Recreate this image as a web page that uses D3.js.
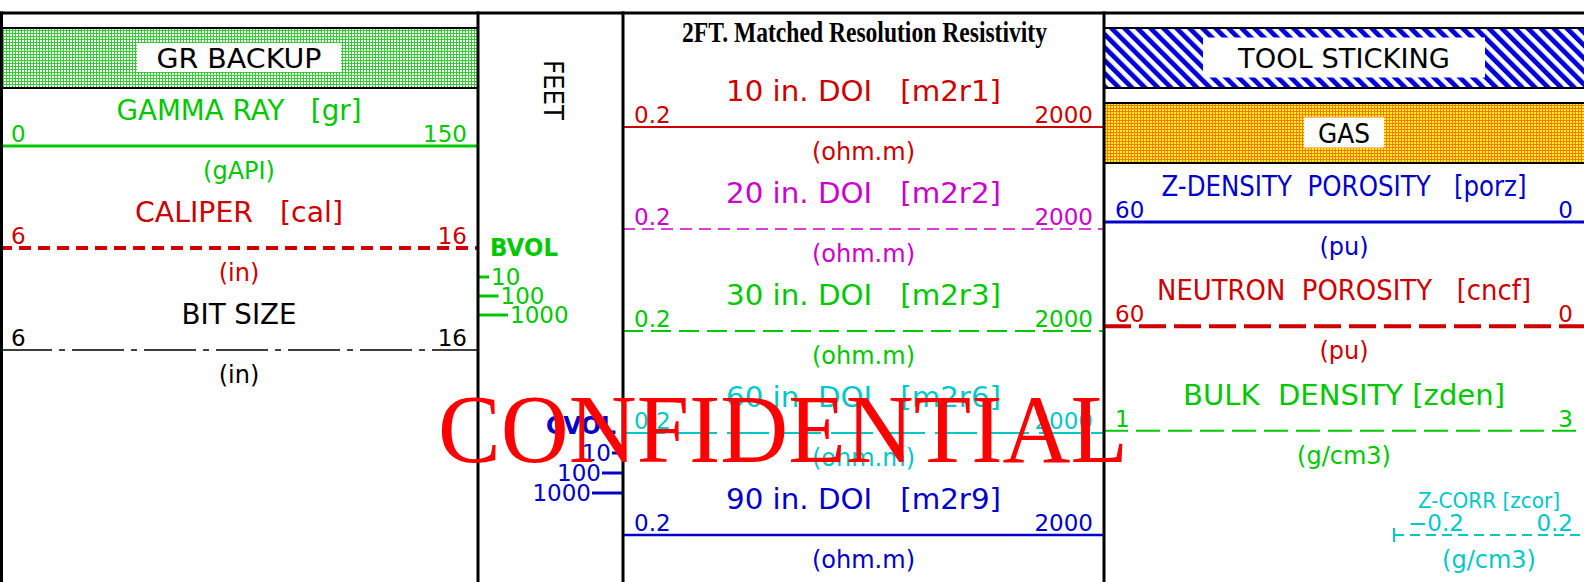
<!DOCTYPE html>
<html>
<head>
<meta charset="utf-8">
<script src="https://cdn.jsdelivr.net/npm/d3@7"></script>
<style>
  html, body { margin: 0; padding: 0; background: #fff; overflow: hidden; }
  svg text { font-family: 'DejaVu Sans', sans-serif; white-space: pre; }
</style>
</head>
<body>
<div id="log-header"></div>
<script>
const width = 1584, height = 582;

// Track 1 - gamma ray / caliper / bit size
const t1Names = ['GAMMA RAY', 'CALIPER', 'BIT SIZE'];
const t1Mnem = ['gr', 'cal', 'bs'];
const t1Tags = ['[gr]', '[cal]', ''];
const t1Units = ['gAPI', 'in', 'in'];
const t1Left = [0, 6, 6];
const t1Right = [150, 16, 16];
const t1Flags = ['GR BACKUP'];

// Track 2 - depth / volume ticks
const depthUnit = 'FEET';
const bvolTicks = [10, 100, 1000];
const cvolTicks = [10, 100, 1000];

// Track 3 - resistivity
const resTitle = '2FT. Matched Resolution Resistivity';
const resNames = ['10 in. DOI', '20 in. DOI', '30 in. DOI', '60 in. DOI', '90 in. DOI'];
const resMnem = ['m2r1', 'm2r2', 'm2r3', 'm2r6', 'm2r9'];
const resUnits = ['ohm.m', 'ohm.m', 'ohm.m', 'ohm.m', 'ohm.m'];
const resLeft = [0.2, 0.2, 0.2, 0.2, 0.2];
const resRight = [2000, 2000, 2000, 2000, 2000];

// Track 4 - porosity / density
const t4Names = ['Z-DENSITY  POROSITY', 'NEUTRON  POROSITY', 'BULK  DENSITY', 'Z-CORR'];
const t4Mnem = ['porz', 'cncf', 'zden', 'zcor'];
const t4Units = ['pu', 'pu', 'g/cm3', 'g/cm3'];
const t4Left = [60, 60, 1, -0.2];
const t4Right = [0, 0, 3, 0.2];
const t4Flags = ['TOOL STICKING', 'GAS'];

const watermark = 'CONFIDENTIAL';

// styles per curve
const curveStyle = {
  gr:   {color: '#00c800', width: 3,   dash: null,       titleW: 245, gap: '   '},
  cal:  {color: '#cc0000', width: 4,   dash: '12,7',     titleW: 208, gap: '   '},
  bs:   {color: '#000000', width: 1.6, dash: '52,7,6,7', titleW: 115, gap: ''},
  m2r1: {color: '#cc0000', width: 2,   dash: null,       titleW: 275, gap: '   '},
  m2r2: {color: '#cc00cc', width: 1.6, dash: '12,7',     titleW: 275, gap: '   '},
  m2r3: {color: '#00c800', width: 2,   dash: '20,8',     titleW: 275, gap: '   '},
  m2r6: {color: '#00c8c8', width: 2,   dash: '42,10',    titleW: 275, gap: '   '},
  m2r9: {color: '#0000cc', width: 2.5, dash: null,       titleW: 275, gap: '   '},
  porz: {color: '#0000cc', width: 3,   dash: null,       titleW: 365, gap: '   '},
  cncf: {color: '#cc0000', width: 4,   dash: '27,8',     titleW: 374, gap: '   '},
  zden: {color: '#00c800', width: 2,   dash: '24,8',     titleW: 322, gap: ' '},
  zcor: {color: '#00c8c8', width: 2,   dash: '10,6',     titleW: 142, gap: ' ', small: true, range: [1394, 1584]}
};

const svg = d3.select('#log-header')
  .append('svg')
    .attr('width', width)
    .attr('height', height);

// Add defs with fill patterns
let defs = svg.append('defs');

// green mesh for GR BACKUP
let mesh = defs.append('pattern')
  .attr('id', 'gr-mesh')
  .attr('patternUnits', 'userSpaceOnUse')
  .attr('width', 3)
  .attr('height', 3);
mesh.append('rect').attr('width', 3).attr('height', 3).attr('fill', '#33cc33');
mesh.append('rect').attr('x', 1).attr('y', 1).attr('width', 2).attr('height', 2).attr('fill', '#ffffff');

// blue diagonal hatch for TOOL STICKING
let hatch = defs.append('pattern')
  .attr('id', 'stick-hatch')
  .attr('patternUnits', 'userSpaceOnUse')
  .attr('width', 9.2)
  .attr('height', 9.2)
  .attr('patternTransform', 'rotate(-45)');
hatch.append('rect').attr('width', 9.2).attr('height', 9.2).attr('fill', '#ffffff');
hatch.append('rect').attr('width', 4.8).attr('height', 9.2).attr('fill', '#0000dd');

// orange / yellow speckle for GAS
let gas = defs.append('pattern')
  .attr('id', 'gas-dots')
  .attr('patternUnits', 'userSpaceOnUse')
  .attr('width', 3)
  .attr('height', 3);
gas.append('rect').attr('width', 3).attr('height', 3).attr('fill', '#ff7a00');
gas.append('rect').attr('x', 1).attr('y', 1).attr('width', 2).attr('height', 2).attr('fill', '#ffee22');

const flagStyle = {
  'GR BACKUP':     {fill: 'url(#gr-mesh)',     boxW: 204, boxH: 29, textW: 165},
  'TOOL STICKING': {fill: 'url(#stick-hatch)', boxW: 282, boxH: 40, textW: 212},
  'GAS':           {fill: 'url(#gas-dots)',    boxW: 80,  boxH: 30, textW: 52}
};

// track edges
const edges = [1.5, 478, 623, 1104, 1584];
const topY = 13;
const bandY = d3.scaleLinear().domain([0, 1]).range([28, 103]);
const bandH = 60;

// Flag bands
function drawFlags(labels, x0, x1) {
  labels.forEach((label, i) => {
    const st = flagStyle[label];
    const top = bandY(i);
    const cx = (x0 + x1) / 2;
    svg.append('rect')
      .attr('x', x0).attr('y', top)
      .attr('width', x1 - x0).attr('height', bandH)
      .attr('fill', st.fill);
    svg.append('rect')
      .attr('x', cx - st.boxW / 2).attr('y', top + bandH / 2 - st.boxH / 2 - 0.5)
      .attr('width', st.boxW).attr('height', st.boxH)
      .attr('fill', '#ffffff');
    svg.append('text')
      .attr('x', cx).attr('y', top + bandH / 2 + 10)
      .attr('text-anchor', 'middle')
      .attr('font-size', 27)
      .attr('textLength', st.textW)
      .attr('lengthAdjust', 'spacingAndGlyphs')
      .attr('fill', '#000')
      .text(label);
    [top, top + bandH].forEach(yy => {
      svg.append('line')
        .attr('x1', x0).attr('x2', x1)
        .attr('y1', yy).attr('y2', yy)
        .attr('stroke', '#000').attr('stroke-width', 2);
    });
  });
}

drawFlags(t1Flags, 0, edges[1]);
drawFlags(t4Flags, edges[3], edges[4]);

// Curve entries
function drawCurves(curves, rowY, x0, x1, isLog) {
  curves.forEach((c, i) => {
    const st = curveStyle[c.mnem];
    const range = st.range || [x0, x1];
    const x = (isLog ? d3.scaleLog() : d3.scaleLinear())
      .domain([c.left, c.right])
      .range(range);
    const y = rowY(i);
    const mid = (range[0] + range[1]) / 2;
    const g = svg.append('g').attr('class', 'curve curve-' + c.mnem);

    // title
    g.append('text')
      .attr('x', mid).attr('y', y - (st.small ? 27 : 26))
      .attr('text-anchor', 'middle')
      .attr('font-size', st.small ? 22 : 28)
      .attr('textLength', st.titleW)
      .attr('lengthAdjust', 'spacingAndGlyphs')
      .attr('fill', st.color)
      .text(c.tag ? c.name + st.gap + c.tag : c.name);

    // scale labels
    g.append('text')
      .attr('x', x(c.left) + (st.small ? 14 : 11)).attr('y', y - 4)
      .attr('text-anchor', 'start')
      .attr('font-size', 23)
      .attr('fill', st.color)
      .text(String(c.left).replace('-', '\u2212'));
    g.append('text')
      .attr('x', x(c.right) - 11).attr('y', y - 4)
      .attr('text-anchor', 'end')
      .attr('font-size', 23)
      .attr('fill', st.color)
      .text(c.right);

    // scale line
    g.append('line')
      .attr('x1', x(c.left)).attr('x2', x(c.right))
      .attr('y1', y).attr('y2', y)
      .attr('stroke', st.color)
      .attr('stroke-width', st.width)
      .attr('stroke-dasharray', st.dash);
    if (st.small) {
      g.append('line')
        .attr('x1', x(c.left)).attr('x2', x(c.left))
        .attr('y1', y - 7).attr('y2', y + 7)
        .attr('stroke', st.color).attr('stroke-width', 2);
    }

    // unit
    g.append('text')
      .attr('x', mid).attr('y', y + 33)
      .attr('text-anchor', 'middle')
      .attr('font-size', 24)
      .attr('fill', st.color)
      .text('(' + c.unit + ')');
  });
}

const t1Curves = t1Names.map((n, i) => ({name: n, mnem: t1Mnem[i], tag: t1Tags[i], unit: t1Units[i], left: t1Left[i], right: t1Right[i]}));
const resCurves = resNames.map((n, i) => ({name: n, mnem: resMnem[i], tag: '[' + resMnem[i] + ']', unit: resUnits[i], left: resLeft[i], right: resRight[i]}));
const t4Curves = t4Names.map((n, i) => ({name: n, mnem: t4Mnem[i], tag: '[' + t4Mnem[i] + ']', unit: t4Units[i], left: t4Left[i], right: t4Right[i]}));

drawCurves(t1Curves, d3.scaleLinear().domain([0, 1]).range([146, 248]), 0, edges[1], false);
drawCurves(resCurves, d3.scaleLinear().domain([0, 1]).range([127, 229]), edges[2], edges[3], true);
drawCurves(t4Curves, d3.scaleLinear().domain([0, 3]).range([222, 535]), edges[3], edges[4], false);

// Resistivity track title
svg.append('text')
  .attr('x', (edges[2] + edges[3]) / 2 + 1).attr('y', 42)
  .attr('text-anchor', 'middle')
  .style('font-family', "'Liberation Serif', serif")
  .attr('font-weight', 'bold')
  .attr('font-size', 29)
  .attr('textLength', 365)
  .attr('lengthAdjust', 'spacingAndGlyphs')
  .attr('fill', '#000')
  .text(resTitle);

// Depth track unit
svg.append('text')
  .attr('transform', 'translate(553,90) rotate(90)')
  .attr('text-anchor', 'middle')
  .attr('dominant-baseline', 'central')
  .attr('font-size', 27)
  .attr('textLength', 60)
  .attr('lengthAdjust', 'spacingAndGlyphs')
  .attr('fill', '#000')
  .text(depthUnit);

// BVOL legend (ticks grow to the right of the depth track edge)
const bvolY = d3.scaleLog().domain([10, 1000]).range([277, 315]);
const bvolLen = d3.scaleLog().domain([10, 1000]).range([11, 30]);
svg.append('text')
  .attr('x', 490).attr('y', 256)
  .attr('font-size', 25).attr('font-weight', 'bold')
  .attr('textLength', 68).attr('lengthAdjust', 'spacingAndGlyphs')
  .attr('fill', '#00c800')
  .text('BVOL');
bvolTicks.forEach(t => {
  svg.append('line')
    .attr('x1', edges[1]).attr('x2', edges[1] + bvolLen(t))
    .attr('y1', bvolY(t)).attr('y2', bvolY(t))
    .attr('stroke', '#00c800').attr('stroke-width', 3);
  svg.append('text')
    .attr('x', edges[1] + bvolLen(t) + 2).attr('y', bvolY(t) + 8)
    .attr('font-size', 23)
    .attr('fill', '#00c800')
    .text(t);
});

// CVOL legend (ticks grow to the left of the resistivity track edge)
const cvolY = d3.scaleLog().domain([10, 1000]).range([453, 493]);
const cvolLen = d3.scaleLog().domain([10, 1000]).range([11, 31]);
svg.append('text')
  .attr('x', 616).attr('y', 434)
  .attr('text-anchor', 'end')
  .attr('font-size', 25).attr('font-weight', 'bold')
  .attr('textLength', 70).attr('lengthAdjust', 'spacingAndGlyphs')
  .attr('fill', '#0000cc')
  .text('CVOL');
cvolTicks.forEach(t => {
  svg.append('line')
    .attr('x1', edges[2] - cvolLen(t)).attr('x2', edges[2])
    .attr('y1', cvolY(t)).attr('y2', cvolY(t))
    .attr('stroke', '#0000cc').attr('stroke-width', 3);
  svg.append('text')
    .attr('x', edges[2] - cvolLen(t) - 1).attr('y', cvolY(t) + 8)
    .attr('text-anchor', 'end')
    .attr('font-size', 23)
    .attr('fill', '#0000cc')
    .text(t);
});

// Frame lines
svg.append('line')
  .attr('x1', 0).attr('x2', width)
  .attr('y1', topY).attr('y2', topY)
  .attr('stroke', '#000').attr('stroke-width', 3);
edges.slice(0, 4).forEach(ex => {
  svg.append('line')
    .attr('x1', ex).attr('x2', ex)
    .attr('y1', topY - 1.5).attr('y2', height)
    .attr('stroke', '#000').attr('stroke-width', 3);
});

// Watermark
svg.append('text')
  .attr('x', 438).attr('y', 462)
  .style('font-family', "'Liberation Serif', serif")
  .attr('font-size', 97)
  .attr('textLength', 690)
  .attr('lengthAdjust', 'spacingAndGlyphs')
  .attr('fill', '#ff0000')
  .text(watermark);
</script>
</body>
</html>
